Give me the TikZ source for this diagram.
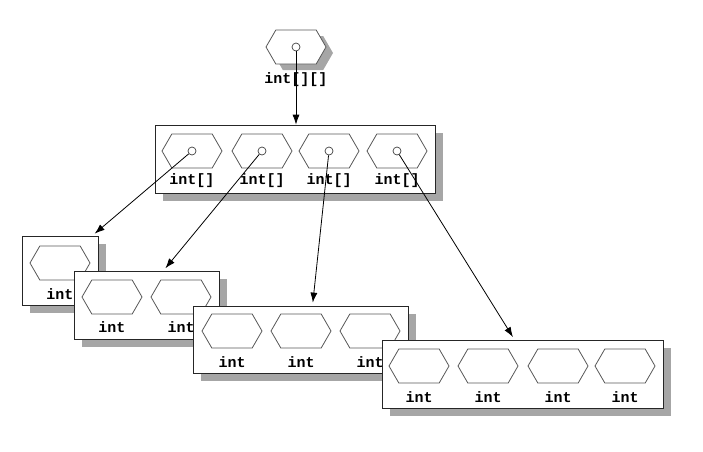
\documentclass[tikz,border=0pt]{standalone}
\usepackage{fontspec}
\setmonofont{Liberation Mono}
\usetikzlibrary{shapes.symbols,shadows,arrows.meta,positioning}

\tikzset{
  arrbox/.style={draw=black!85, line width=.8pt, fill=white, inner sep=0pt,
    drop shadow={shadow xshift=8pt, shadow yshift=-8pt, fill=black!50, opacity=.7}},
  cell/.style={shape=signal, signal to=east and west, signal pointer angle=120,
    draw=black!65, line width=.8pt, fill=white, minimum width=60pt, minimum height=34pt, inner sep=0pt},
  refdot/.style={circle, draw=black!75, line width=.7pt, fill=white, inner sep=0pt, minimum size=8pt},
  lbl/.style={font=\ttfamily\bfseries\fontsize{15}{18}\selectfont, inner sep=1pt},
}

\begin{document}
\begin{tikzpicture}[x=1pt, y=-1pt, >={Latex[length=10pt,width=7pt]}]
\useasboundingbox (0,0) rectangle (703,451);

% the int[][] variable
\node[cell, drop shadow={shadow xshift=7pt, shadow yshift=-6pt, fill=black!50, opacity=.7}] (top) at (296,47) {};
\node[refdot] (topref) at (top) {};
\node[lbl] (toplbl) at (296,80) {int[][]};

% outer array of int[]
\node[arrbox, minimum width=280pt, minimum height=68pt] (outer) at (295,159) {};
\foreach \x [count=\i] in {192,262,329,397} {
  \node[cell] (o\i) at (\x,151) {};
  \node[refdot] (r\i) at (o\i) {};
  \node[lbl] (ol\i) at (\x,181) {int[]};
}

% the rows
\node[arrbox, minimum width=76pt, minimum height=69pt] (rowA) at (60,270.5) {};
\node[cell] (a1) at (60,263) {};
\node[lbl] (al1) at (60,294) {int};

\node[arrbox, minimum width=145pt, minimum height=68pt] (rowB) at (146.5,305) {};
\foreach \x [count=\i] in {112,181} {
  \node[cell] (b\i) at (\x,297) {};
  \node[lbl] (bl\i) at (\x,327) {int};
}

\node[arrbox, minimum width=215pt, minimum height=67pt] (rowC) at (300.5,339.5) {};
\foreach \x [count=\i] in {232,301,370} {
  \node[cell] (c\i) at (\x,331) {};
  \node[lbl] (cl\i) at (\x,362) {int};
}

\node[arrbox, minimum width=281pt, minimum height=68pt] (rowD) at (522.5,374) {};
\foreach \x [count=\i] in {419,488,558,625} {
  \node[cell] (d\i) at (\x,366) {};
  \node[lbl] (dl\i) at (\x,397) {int};
}

% references
\draw[->, line width=.8pt] (topref) -- (topref |- outer.north);
\draw[->, line width=.8pt, shorten >=3pt] (r1) -- ([xshift=-6pt]rowA.north east);
\draw[->, line width=.8pt, shorten >=3pt] (r2) -- ([xshift=17pt]rowB.north);
\draw[->, line width=.8pt, shorten >=3pt] (r3) -- ([xshift=12pt]rowC.north);
\draw[->, line width=.8pt, shorten >=3pt] (r4) -- ([xshift=-8pt]rowD.north);

\end{tikzpicture}
\end{document}
